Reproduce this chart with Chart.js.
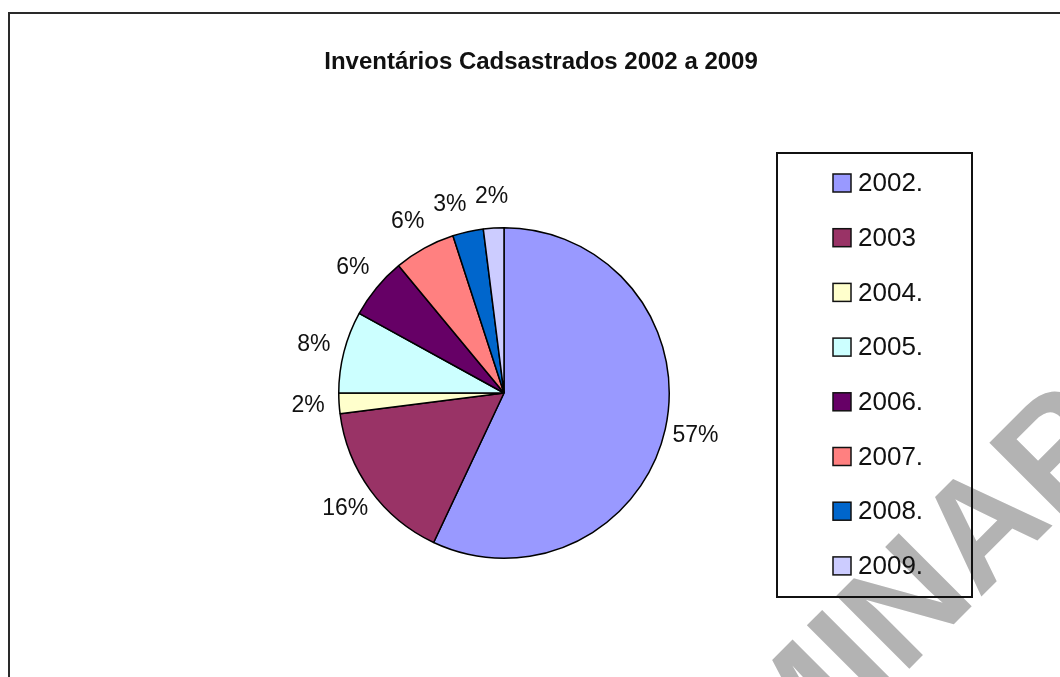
<!DOCTYPE html>
<html lang="pt">
<head>
<meta charset="utf-8">
<title>Inventários Cadsastrados 2002 a 2009</title>
<script src="https://cdn.jsdelivr.net/npm/chart.js@4/dist/chart.umd.min.js"></script>
<style>
  html, body { margin: 0; padding: 0; background: #fff; }
  canvas { display: block; }
</style>
</head>
<body>
<canvas id="inventarioChart" width="1060" height="677"></canvas>
<script>
// Inventários por ano (percentual do total)
const anos = ["2002.", "2003", "2004.", "2005.", "2006.", "2007.", "2008.", "2009."];
const percentuais = [57, 16, 2, 8, 6, 6, 3, 2];
const cores = ["#9999ff", "#993366", "#ffffcc", "#ccffff", "#660066", "#ff8080", "#0066cc", "#ccccff"];

const titulo = "Inventários Cadsastrados 2002 a 2009";
const marcaDagua = "PRELIMINAR";

document.addEventListener("DOMContentLoaded", function () {
  const ctx = document.getElementById("inventarioChart");

  // fundo branco + marca d'agua cinza por baixo de tudo
  const fundo = {
    id: "fundo",
    beforeDraw: function (chart) {
      const c = chart.ctx;
      c.save();
      c.fillStyle = "#ffffff";
      c.fillRect(0, 0, chart.width, chart.height);
      c.translate(472, 1106);
      c.rotate(-Math.PI / 4);
      c.fillStyle = "#b3b3b3";
      c.font = "bold 150px 'Liberation Sans', Arial, sans-serif";
      c.textAlign = "left";
      c.textBaseline = "alphabetic";
      c.fillText(marcaDagua, 0, 0);
      c.restore();
    },
  };

  // rotulos de percentual fora de cada fatia
  const rotulos = {
    id: "rotulos",
    afterDatasetsDraw: function (chart) {
      const c = chart.ctx;
      const meta = chart.getDatasetMeta(0);
      c.save();
      c.font = "23px 'Liberation Sans', Arial, sans-serif";
      c.fillStyle = "#111";
      c.textAlign = "center";
      c.textBaseline = "middle";

      const pos = meta.data.map(function (arc, i) {
        const p = arc.getProps(["x", "y", "startAngle", "endAngle", "outerRadius"], true);
        return {
          texto: percentuais[i] + "%",
          ang: (p.startAngle + p.endAngle) / 2,
          cx: p.x,
          cy: p.y,
          r: p.outerRadius + 31,
        };
      });
      const lugar = function (l) {
        l.x = l.cx + Math.cos(l.ang) * l.r;
        l.y = l.cy + Math.sin(l.ang) * l.r;
        l.w = c.measureText(l.texto).width;
      };
      pos.forEach(lugar);

      // empurra rotulos que encostam no vizinho (de cima para tras)
      for (let i = pos.length - 2; i >= 0; i--) {
        const a = pos[i];
        const b = pos[i + 1];
        let n = 0;
        while (n < 60 && Math.abs(a.y - b.y) < 20 && a.x + a.w / 2 + 8 > b.x - b.w / 2) {
          a.ang -= 0.01;
          lugar(a);
          n++;
        }
      }

      pos.forEach(function (l) {
        c.fillText(l.texto, l.x, l.y);
      });
      c.restore();
    },
  };

  // moldura, titulo e legenda
  const moldura = {
    id: "moldura",
    afterDraw: function (chart) {
      const c = chart.ctx;
      c.save();

      // moldura externa
      c.strokeStyle = "#2a2a2a";
      c.lineWidth = 2;
      c.strokeRect(9, 13, 1080, 700);

      // titulo
      c.fillStyle = "#111";
      c.font = "bold 24px 'Liberation Sans', Arial, sans-serif";
      c.textAlign = "center";
      c.textBaseline = "middle";
      c.fillText(titulo, 541, 62);

      // caixa da legenda
      c.strokeStyle = "#111";
      c.lineWidth = 2;
      c.strokeRect(777, 153, 195, 444);

      c.font = "26px 'Liberation Sans', Arial, sans-serif";
      c.textAlign = "left";
      const cor = chart.data.datasets[0].backgroundColor;
      chart.data.labels.forEach(function (ano, i) {
        const yc = 183 + i * 54.7;
        c.fillStyle = cor[i];
        c.fillRect(833, yc - 9, 18, 18);
        c.strokeStyle = "#111";
        c.lineWidth = 1.5;
        c.strokeRect(833, yc - 9, 18, 18);
        c.fillStyle = "#111";
        c.fillText(ano, 858, yc + 1);
      });
      c.restore();
    },
  };

  new Chart(ctx, {
    type: "pie",
    data: {
      labels: anos,
      datasets: [
        {
          data: percentuais,
          backgroundColor: cores,
          borderColor: "#000",
          borderWidth: 1.5,
          hoverOffset: 0,
        },
      ],
    },
    options: {
      responsive: false,
      animation: false,
      events: [],
      layout: {
        padding: { left: 338, right: 390, top: 227, bottom: 118 },
      },
      plugins: {
        legend: { display: false },
        title: { display: false },
        tooltip: { enabled: false },
      },
    },
    plugins: [fundo, rotulos, moldura],
  });
});
</script>
</body>
</html>
